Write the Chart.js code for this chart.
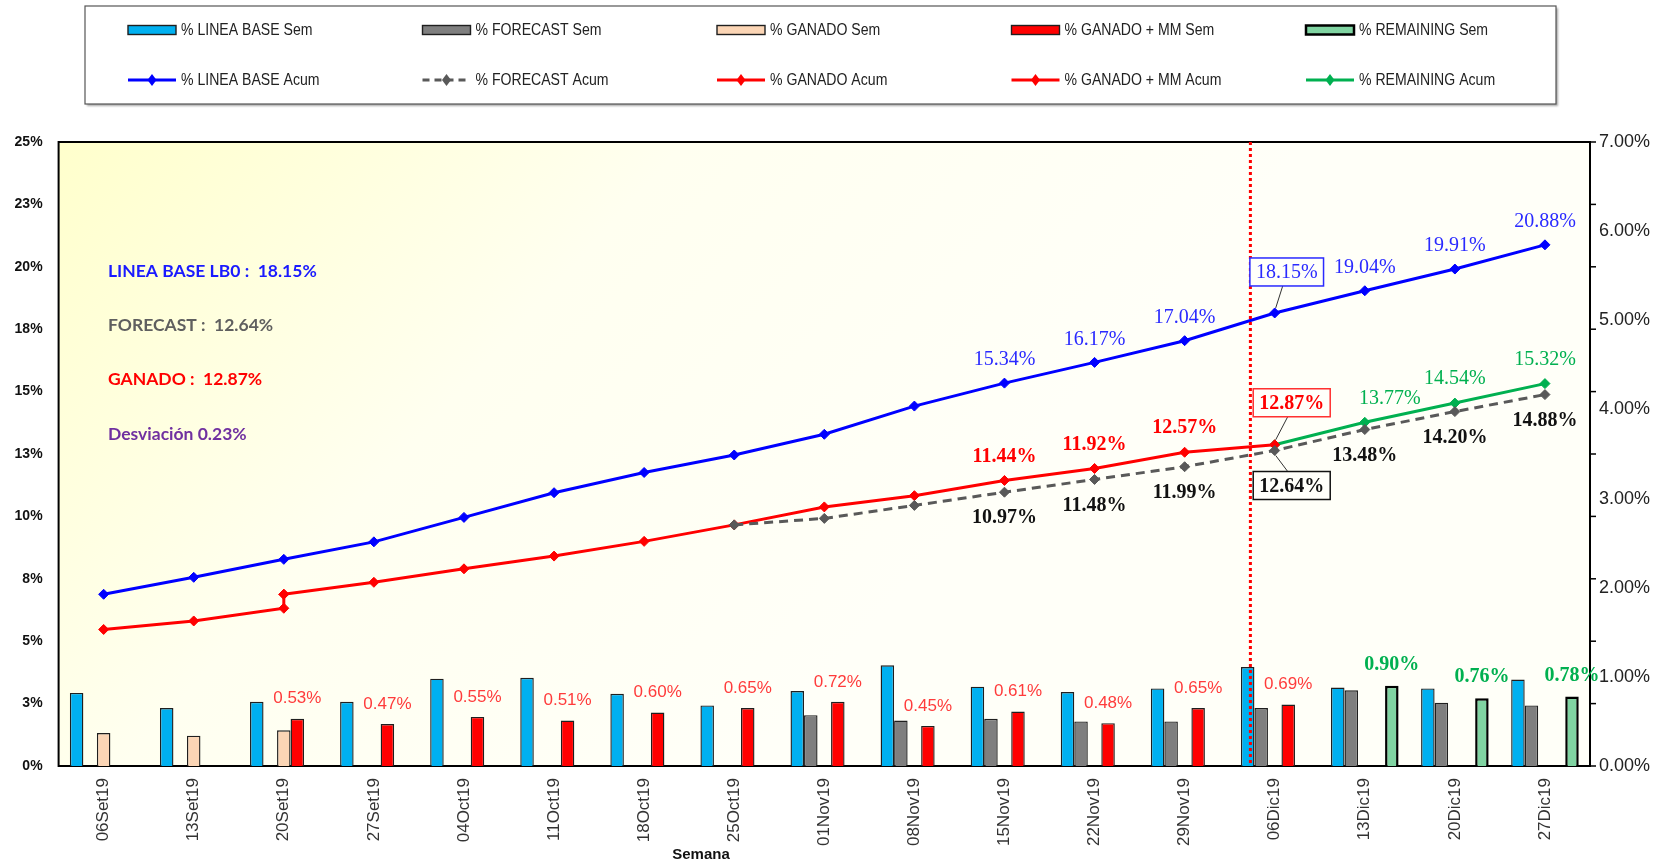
<!DOCTYPE html>
<html><head><meta charset="utf-8">
<script src="https://cdn.jsdelivr.net/npm/chart.js@4.4.1/dist/chart.umd.min.js"></script>
<style>html,body{margin:0;padding:0;background:#fff;}#wrap{width:1671px;height:868px;position:relative;}</style>
</head><body><div id="wrap"><canvas id="c"></canvas></div>
<script>
const N = null;
const weeks = ['06Set19','13Set19','20Set19','27Set19','04Oct19','11Oct19','18Oct19','25Oct19','01Nov19','08Nov19','15Nov19','22Nov19','29Nov19','06Dic19','13Dic19','20Dic19','27Dic19'];
const lineaBaseSem = [0.82,0.65,0.72,0.72,0.98,0.99,0.81,0.68,0.84,1.13,0.89,0.83,0.87,1.11,0.88,0.87,0.97];
const forecastSem  = [N,N,N,N,N,N,N,N,0.57,0.51,0.53,0.50,0.50,0.65,0.85,0.71,0.68];
const ganadoSem    = [0.37,0.34,0.40,N,N,N,N,N,N,N,N,N,N,N,N,N,N];
const ganadoMMSem  = [N,N,0.53,0.47,0.55,0.51,0.60,0.65,0.72,0.45,0.61,0.48,0.65,0.69,N,N,N];
const remainingSem = [N,N,N,N,N,N,N,N,N,N,N,N,N,N,0.90,0.76,0.78];
const lineaBaseAcum = [6.88,7.56,8.28,8.98,9.96,10.95,11.76,12.46,13.29,14.42,15.34,16.17,17.04,18.15,19.04,19.91,20.88];
const forecastAcum  = [N,N,N,N,N,N,N,9.66,9.92,10.44,10.97,11.48,11.99,12.64,13.48,14.20,14.88];
const ganadoAcum    = [5.47,5.81,6.32,N,N,N,N,N,N,N,N,N,N,N,N,N,N];
const ganadoMMAcum  = [N,N,6.88,7.36,7.90,8.41,9.00,9.66,10.38,10.83,11.44,11.92,12.57,12.87,N,N,N];
const remainingAcum = [N,N,N,N,N,N,N,N,N,N,N,N,N,12.87,13.77,14.54,15.32];
const leftMax = 25, leftStep = 2.5;
const rightMax = 7, rightStep = 1;
const summaryTexts = ['LINEA BASE LB0 :  18.15%','FORECAST :  12.64%','GANADO :  12.87%','Desviación 0.23%'];
const summaryColors = ['#1a1aff','#5f5f5f','#ff0000','#7030a0'];
const cutoffIndex = 12.73;
const xTitle = 'Semana';

const ganadoAcumPoints = weeks.map((w,i)=>({x:w,y:ganadoAcum[i]})).filter(p=>p.y!==null);
ganadoAcumPoints.push({x:weeks[2], y:ganadoMMAcum[2]});

const barBorder = '#1f1f1f';
function barDs(label, data, color, bw, bc){
  return {type:'bar', label, data, backgroundColor:color, borderColor:bc||barBorder, borderWidth:bw||1.4,
    yAxisID:'y2', order:1, categoryPercentage:0.75, barPercentage:1.0};
}
function lineDs(label, data, color, dash){
  return {type:'line', label, data, borderColor:color, backgroundColor:color, borderWidth:3,
    borderDash:dash||[], pointStyle:'rectRot', pointRadius:5, pointBorderWidth:1, pointBackgroundColor:color,
    pointBorderColor:color, tension:0, yAxisID:'y', order:0, spanGaps:false};
}
const datasets = [
  barDs('% LINEA BASE Sem', lineaBaseSem, '#00b0f0'),
  barDs('% FORECAST Sem', forecastSem, '#7f7f7f'),
  barDs('% GANADO Sem', ganadoSem, '#fbd5b5'),
  barDs('% GANADO + MM Sem', ganadoMMSem, '#ff0000'),
  barDs('% REMAINING Sem', remainingSem, '#80d4a2', 2.5, '#000'),
  lineDs('% LINEA BASE Acum', lineaBaseAcum, '#0000ff'),
  lineDs('% FORECAST Acum', forecastAcum, '#595959', [9,6]),
  lineDs('% GANADO Acum', ganadoAcumPoints, '#ff0000'),
  lineDs('% GANADO + MM Acum', ganadoMMAcum, '#ff0000'),
  lineDs('% REMAINING Acum', remainingAcum, '#00b050')
];

const labelSpecs = {
  3: {idx:[2,3,4,5,6,7,8,9,10,11,12,13], font:'17px "Liberation Sans"', color:'#ff3b3b', dy:-20},
  4: {idx:[14,15,16], font:'bold 20px "Liberation Serif"', color:'#00b050', dy:-21},
  5: {idx:[10,11,12,14,15,16], font:'20px "Liberation Serif"', color:'#2a2aff', dy:-23,
      box:{13:{dx:12, dy:-41, stroke:'#2a2aff'}}},
  6: {idx:[10,11,12,14,15,16], font:'bold 20px "Liberation Serif"', color:'#111', dy:26,
      box:{13:{dx:17, dy:35, stroke:'#111'}}},
  8: {idx:[10,11,12], font:'bold 20px "Liberation Serif"', color:'#ff0000', dy:-24,
      box:{13:{dx:17, dy:-42, stroke:'#ff3030'}}},
  9: {idx:[14,15,16], font:'20px "Liberation Serif"', color:'#00b050', dy:-24, dx:{14:25}}
};

const fmt = v => v.toFixed(2) + '%';

const decor = {
  id:'decor',
  beforeDraw(chart){
    const {ctx, chartArea:a} = chart;
    const g = ctx.createLinearGradient(a.left, a.top, a.left + (a.right-a.left)*0.45, a.bottom);
    g.addColorStop(0,'#ffffcc'); g.addColorStop(0.5,'#fffff0'); g.addColorStop(1,'#fffff8');
    ctx.save(); ctx.fillStyle = g; ctx.fillRect(a.left, a.top, a.right-a.left, a.bottom-a.top); ctx.restore();
  },
  beforeDatasetsDraw(chart){
    const {ctx, chartArea:a} = chart;
    ctx.save();
    ctx.strokeStyle = '#000'; ctx.lineWidth = 2;
    ctx.strokeRect(a.left, a.top, a.right-a.left, a.bottom-a.top);
    const ys = chart.scales.y;
    ctx.lineWidth = 1.5;
    for (let v = 0; v <= leftMax + 1e-9; v += leftStep){
      const y = ys.getPixelForValue(v);
      ctx.beginPath(); ctx.moveTo(a.right, y); ctx.lineTo(a.right+6, y); ctx.stroke();
    }
    ctx.restore();
  },
  afterDatasetsDraw(chart){
    const {ctx, chartArea:a} = chart;
    const xs = chart.scales.x;
    ctx.save();
    const cx = xs.getPixelForValue(cutoffIndex);
    ctx.strokeStyle = '#ff0000'; ctx.lineWidth = 3; ctx.setLineDash([3,3]);
    ctx.beginPath(); ctx.moveTo(cx, a.top); ctx.lineTo(cx, a.bottom); ctx.stroke();
    ctx.restore();
    ctx.save();
    ctx.textAlign = 'center'; ctx.textBaseline = 'middle';
    Object.keys(labelSpecs).forEach(k => {
      const di = +k, spec = labelSpecs[k];
      const meta = chart.getDatasetMeta(di);
      const data = chart.data.datasets[di].data;
      ctx.font = spec.font; ctx.fillStyle = spec.color;
      spec.idx.forEach(i => {
        const el = meta.data[i]; const v = data[i];
        if (!el || v == null) return;
        const dx = (spec.dx && spec.dx[i]) || 0;
        ctx.fillText(fmt(v), el.x + dx, el.y + spec.dy);
      });
      if (spec.box){
        Object.keys(spec.box).forEach(bk => {
          const i = +bk, b = spec.box[bk];
          const el = meta.data[i]; const v = data[i];
          const t = fmt(v);
          const w = ctx.measureText(t).width + 12, h = 28;
          const bx = el.x + b.dx, by = el.y + b.dy;
          ctx.save();
          ctx.strokeStyle = '#333'; ctx.lineWidth = 1;
          ctx.beginPath();
          const ey = b.dy < 0 ? by + h/2 : by - h/2;
          ctx.moveTo(bx - 4, ey); ctx.lineTo(el.x + 1, el.y + (b.dy < 0 ? -5 : 5)); ctx.stroke();
          ctx.fillStyle = '#fffffa'; ctx.fillRect(bx - w/2, by - h/2, w, h);
          ctx.strokeStyle = b.stroke; ctx.lineWidth = 1.5; ctx.strokeRect(bx - w/2, by - h/2, w, h);
          ctx.restore();
          ctx.fillText(t, bx, by + 1);
        });
      }
    });
    ctx.restore();
  },
  afterDraw(chart){
    const {ctx} = chart;
    ctx.save();
    ctx.shadowColor = 'rgba(0,0,0,0.35)'; ctx.shadowOffsetX = 2; ctx.shadowOffsetY = 2; ctx.shadowBlur = 2;
    ctx.fillStyle = '#fff'; ctx.fillRect(85, 6, 1471, 98);
    ctx.shadowColor = 'transparent';
    ctx.strokeStyle = '#555'; ctx.lineWidth = 1.2; ctx.strokeRect(85, 6, 1471, 98);
    chart.data.datasets.forEach((ds, i) => {
      const row = i < 5 ? 0 : 1, col = i % 5;
      const x0 = 128 + col*294.5, yc = row === 0 ? 30 : 80;
      ctx.save();
      if (ds.type === 'bar'){
        ctx.fillStyle = ds.backgroundColor; ctx.fillRect(x0, yc-4.5, 48, 9);
        ctx.strokeStyle = ds.borderColor; ctx.lineWidth = ds.borderWidth; ctx.strokeRect(x0, yc-4.5, 48, 9);
      } else {
        ctx.strokeStyle = ds.borderColor; ctx.lineWidth = 3; ctx.setLineDash(ds.borderDash.length ? [7,5] : []);
        ctx.beginPath(); ctx.moveTo(x0, yc); ctx.lineTo(x0+48, yc); ctx.stroke();
        ctx.setLineDash([]); ctx.fillStyle = ds.borderColor;
        ctx.beginPath(); ctx.moveTo(x0+24, yc-6); ctx.lineTo(x0+28.5, yc); ctx.lineTo(x0+24, yc+6); ctx.lineTo(x0+19.5, yc); ctx.closePath(); ctx.fill();
      }
      ctx.restore();
      ctx.save();
      ctx.translate(x0 + 53, yc + 1); ctx.scale(0.88, 1);
      ctx.font = '16px "Liberation Sans"'; ctx.fillStyle = '#222'; ctx.textBaseline = 'middle'; ctx.textAlign = 'left';
      ctx.fillText(ds.label, 0, 0);
      ctx.restore();
    });
    ctx.textBaseline = 'middle'; ctx.textAlign = 'left';
    ctx.font = 'bold 17.5px Lato';
    const sy = [271, 325, 379, 434];
    summaryTexts.forEach((t, i) => { ctx.fillStyle = summaryColors[i]; ctx.fillText(t, 108, sy[i]); });
    ctx.font = 'bold 15px "Liberation Sans"'; ctx.fillStyle = '#111'; ctx.textAlign = 'center';
    ctx.fillText(xTitle, 701, 855);
    ctx.restore();
  }
};

Chart.defaults.font.family = '"Liberation Sans", Arial, sans-serif';
new Chart(document.getElementById('c'), {
  type:'bar',
  data:{labels:weeks, datasets},
  options:{
    responsive:true, maintainAspectRatio:false, animation:false,
    layout:{padding:{top:142, left:0, right:0, bottom:0}},
    plugins:{legend:{display:false}, tooltip:{enabled:false}},
    scales:{
      x:{offset:true, grid:{display:false, drawTicks:false, tickLength:0}, border:{display:false},
         ticks:{autoSkip:false, minRotation:90, maxRotation:90, padding:12, color:'#333', font:{size:17}},
         afterFit(s){ s.height = 102; }},
      y:{position:'left', min:0, max:leftMax, grid:{display:false, drawTicks:false, tickLength:0}, border:{display:false},
         ticks:{stepSize:leftStep, padding:16, color:'#111', font:{size:14, weight:'bold'}, callback:v => Math.round(v) + '%'},
         afterFit(s){ s.width = 58.6; }},
      y2:{position:'right', min:0, max:rightMax, grid:{display:false, drawTicks:false, tickLength:0}, border:{display:false},
         ticks:{stepSize:rightStep, padding:9, color:'#222', font:{size:18}, callback:v => v.toFixed(2) + '%'},
         afterFit(s){ s.width = 81; }}
    }
  },
  plugins:[decor]
});
</script></body></html>
